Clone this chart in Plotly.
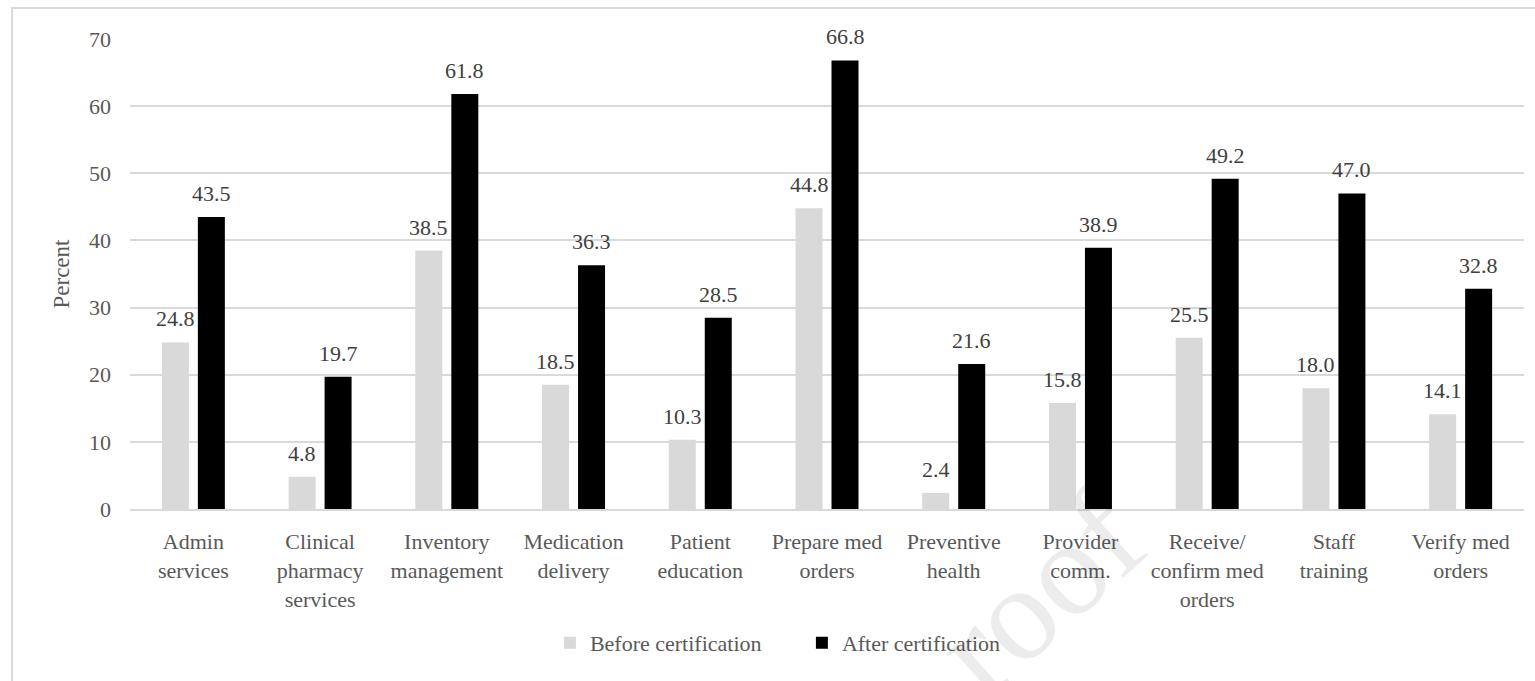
import plotly.graph_objects as go

categories = [
    "Admin<br>services",
    "Clinical<br>pharmacy<br>services",
    "Inventory<br>management",
    "Medication<br>delivery",
    "Patient<br>education",
    "Prepare med<br>orders",
    "Preventive<br>health",
    "Provider<br>comm.",
    "Receive/<br>confirm med<br>orders",
    "Staff<br>training",
    "Verify med<br>orders",
]
before_cert = [24.8, 4.8, 38.5, 18.5, 10.3, 44.8, 2.4, 15.8, 25.5, 18.0, 14.1]
after_cert = [43.5, 19.7, 61.8, 36.3, 28.5, 66.8, 21.6, 38.9, 49.2, 47.0, 32.8]
y_ticks = [0, 10, 20, 30, 40, 50, 60, 70]

FONT = "Liberation Serif, Times New Roman, serif"
TEXT_GREY = "#595959"
LABEL_GREY = "#404040"
BAR_OFFSET_PX = 18  # half the distance between the two bars of a group

fig = go.Figure()
fig.add_trace(go.Bar(
    name="Before certification", x=categories, y=before_cert,
    marker=dict(color="#d9d9d9", line=dict(width=0)),
))
fig.add_trace(go.Bar(
    name="After certification", x=categories, y=after_cert,
    marker=dict(color="#000000", line=dict(width=0)),
))

# value labels above each bar
for series, side in ((before_cert, -1), (after_cert, 1)):
    for cat, val in zip(categories, series):
        fig.add_annotation(
            x=cat, y=val, xref="x", yref="y",
            text=f"{val:.1f}", showarrow=False,
            xanchor="center", yanchor="bottom",
            xshift=side * BAR_OFFSET_PX, yshift=9,
            font=dict(family=FONT, size=22, color=LABEL_GREY),
        )

# faint diagonal watermark in the lower right
fig.add_annotation(
    xref="paper", yref="paper", x=0.652, y=-0.178,
    xanchor="center", yanchor="middle",
    text="roof", showarrow=False, textangle=-42,
    font=dict(family=FONT, size=135, color="rgba(0,0,0,0.075)"),
)

# light frame around the chart area (top and left edges show)
fig.add_shape(
    type="rect", xref="paper", yref="paper",
    x0=-0.0846, x1=1.02, y0=-0.39, y1=1.066,
    line=dict(color="#d9d9d9", width=2), layer="below",
)

fig.update_layout(
    width=1535,
    height=681,
    margin=dict(l=130, r=11, t=39, b=172),
    paper_bgcolor="white",
    plot_bgcolor="white",
    barmode="group",
    bargap=0.432,
    bargroupgap=0.25,
    font=dict(family=FONT, size=22, color=TEXT_GREY),
    showlegend=True,
    legend=dict(
        orientation="h",
        x=0.482, xanchor="center",
        y=-0.285, yanchor="middle",
        bgcolor="rgba(0,0,0,0)",
        font=dict(family=FONT, size=22, color=TEXT_GREY),
        itemsizing="constant",
        itemwidth=30,
        entrywidth=207,
        entrywidthmode="pixels",
        traceorder="normal",
    ),
    xaxis=dict(
        showgrid=False,
        showline=True,
        linecolor="#d9d9d9",
        linewidth=2,
        ticks="",
        ticklabelstandoff=12,
        tickfont=dict(family=FONT, size=22, color=TEXT_GREY),
        tickangle=0,
    ),
    yaxis=dict(
        range=[0, 70],
        tickvals=y_ticks,
        showgrid=True,
        gridcolor="#d9d9d9",
        gridwidth=2,
        zeroline=False,
        showline=False,
        ticks="",
        ticklen=0,
        ticklabelstandoff=18,
        tickfont=dict(family=FONT, size=22, color=TEXT_GREY),
        title=dict(text="Percent", font=dict(family=FONT, size=23, color=TEXT_GREY), standoff=12),
    ),
)

fig.write_html("out.html")
